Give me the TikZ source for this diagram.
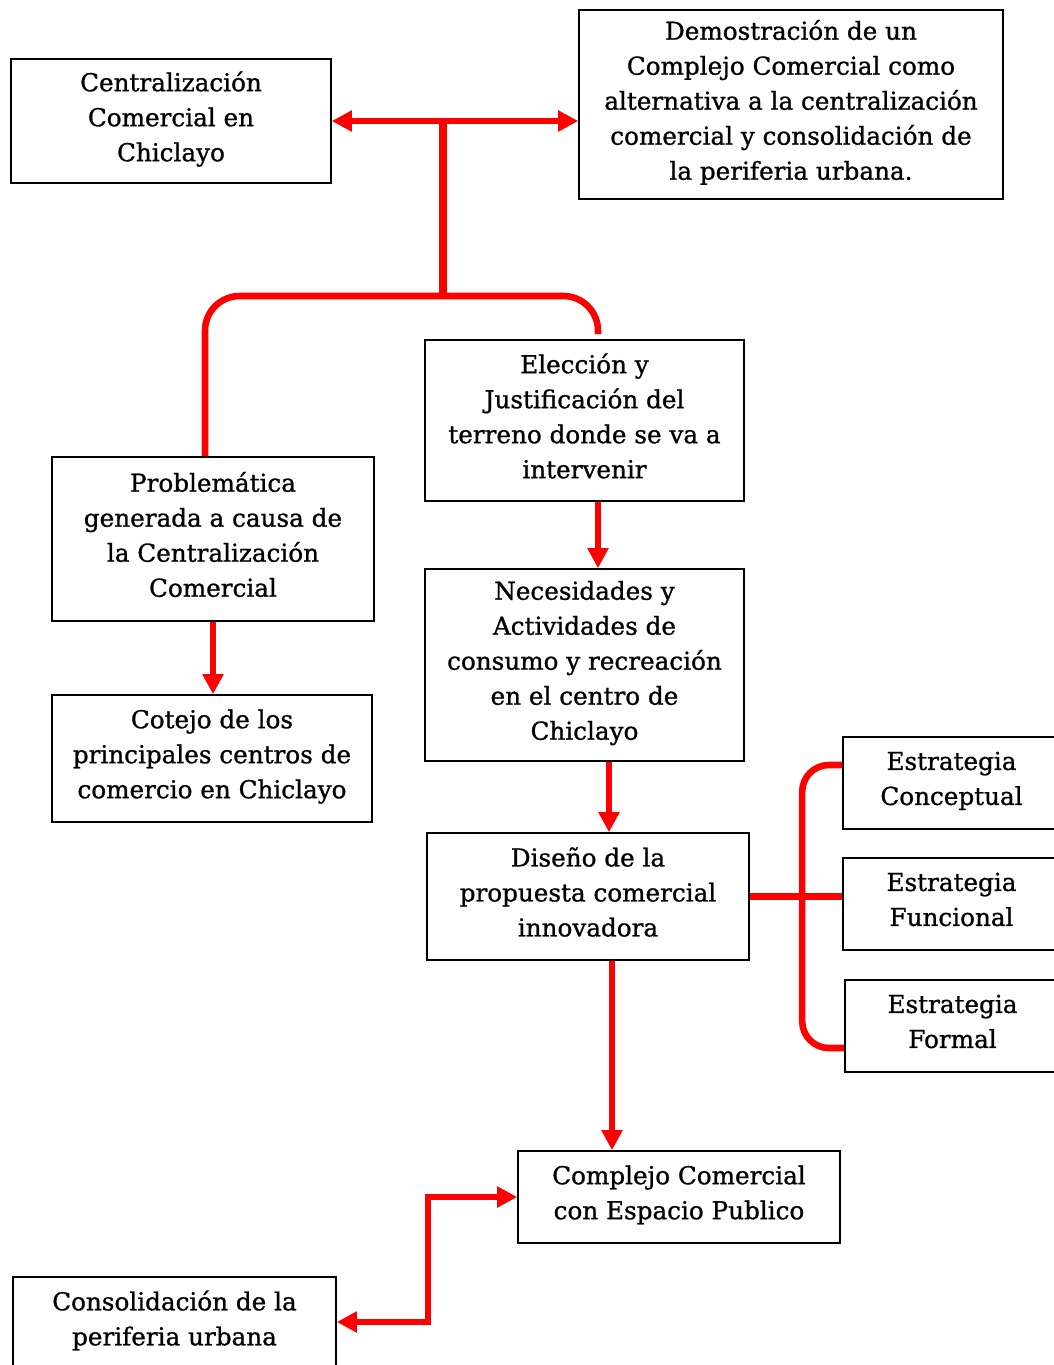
\documentclass[tikz,border=0pt]{standalone}
\usepackage{fontspec}
\setmainfont{DejaVu Serif}
\newfontfamily\boxfont[FakeBold=1]{DejaVu Serif}
\usetikzlibrary{arrows.meta,calc}
\begin{document}
\begin{tikzpicture}[x=0.75pt,y=-0.75pt,
  box/.style={draw=black,line width=1.2pt,inner sep=0pt,align=center,text depth=7pt,
    font=\boxfont\fontsize{18.5}{26.25}\selectfont},
  conn/.style={draw=red,line width=4.9pt},
  trunk/.style={draw=red,line width=6.5pt},
  tip/.style={-{Triangle[length=15pt,width=15pt]}},
  dtip/.style={{Triangle[length=15pt,width=15pt]}-{Triangle[length=15pt,width=15pt]}},
  lbl/.style={inner sep=0pt,align=center,font=\boxfont\fontsize{18.5}{26.25}\selectfont}]
\clip (0,0) rectangle (1054,1365);
\fill[white] (0,0) rectangle (1054,1365);

\node[box,minimum width=240pt,minimum height=93pt] (c1) at (171,121)
  {Centralización\\Comercial en\\Chiclayo};
\node[box,minimum width=318pt,minimum height=141.75pt] (c2) at (791,104.5)
  {Demostración de un\\Complejo Comercial como\\alternativa a la centralización\\comercial y consolidación de\\la periferia urbana.};
\node[box,minimum width=239.25pt,minimum height=120.75pt] (elec) at (584.5,420.5)
  {Elección y\\Justificación del\\terreno donde se va a\\intervenir};
\node[box,minimum width=241.5pt,minimum height=123pt] (prob) at (213,539)
  {Problemática\\generada a causa de\\la Centralización\\Comercial};
\node[box,minimum width=240pt,minimum height=95.25pt] (cot) at (212,758.5)
  {Cotejo de los\\principales centros de\\comercio en Chiclayo};
\node[box,minimum width=239.25pt,minimum height=144pt] (nec) at (584.5,665)
  {Necesidades y\\Actividades de\\consumo y recreación\\en el centro de\\Chiclayo};
\node[box,minimum width=241.5pt,minimum height=95.25pt] (dis) at (588,896.5)
  {Diseño de la\\propuesta comercial\\innovadora};
\node[box,minimum width=162.75pt,minimum height=69pt] (conc) at (951.5,783)
  {Estrategia\\Conceptual};
\node[box,minimum width=162.75pt,minimum height=69pt] (fun) at (951.5,904)
  {Estrategia\\Funcional};
\node[box,minimum width=161.25pt,minimum height=69pt] (form) at (952.5,1026)
  {Estrategia\\Formal};
\node[box,minimum width=241.5pt,minimum height=69pt] (comp) at (679,1197)
  {Complejo Comercial\\con Espacio Publico};
\node[box,minimum width=242.25pt,minimum height=77.25pt] (cons) at (174.5,1328.5) {};
\node[lbl] (consT) at (174.5,1320.5) {Consolidación de la\\periferia urbana};

% top connectors
\coordinate (j1) at (443,121);
\coordinate (j2) at (443,296);
\draw[conn,dtip] (c1.east) -- (c1.east -| c2.west);
\draw[trunk] (j1) -- (j2);
\draw[conn,rounded corners=26pt] ($(prob.north)+(-8,0)$) |- (j2) -| ($(elec.north)+(13.5,-5)$);

% vertical arrows
\draw[conn,tip] ($(elec.south)+(13.5,0)$) -- ($(nec.north)+(13.5,0)$);
\draw[conn,tip] (prob.south) -- (prob.south |- cot.north);
\draw[conn,tip] ($(nec.south)+(24.5,0)$) -- ($(dis.north)+(21,0)$);
\draw[conn,tip] ($(dis.south)+(24,0)$) -- ($(comp.north)+(-67,0)$);

% strategies
\draw[conn] (dis.east) -- (dis.east -| fun.west);
\draw[conn,rounded corners=20pt] ($(conc.west)+(0,-18)$) -- ++(-40,0) |- ($(form.west)+(0,22)$);

% bottom
\coordinate (consA) at ($(cons.east)+(0,-6.5)$);
\draw[conn,dtip] (consA) -- ++(91,0) |- (comp.west);
\end{tikzpicture}
\end{document}
